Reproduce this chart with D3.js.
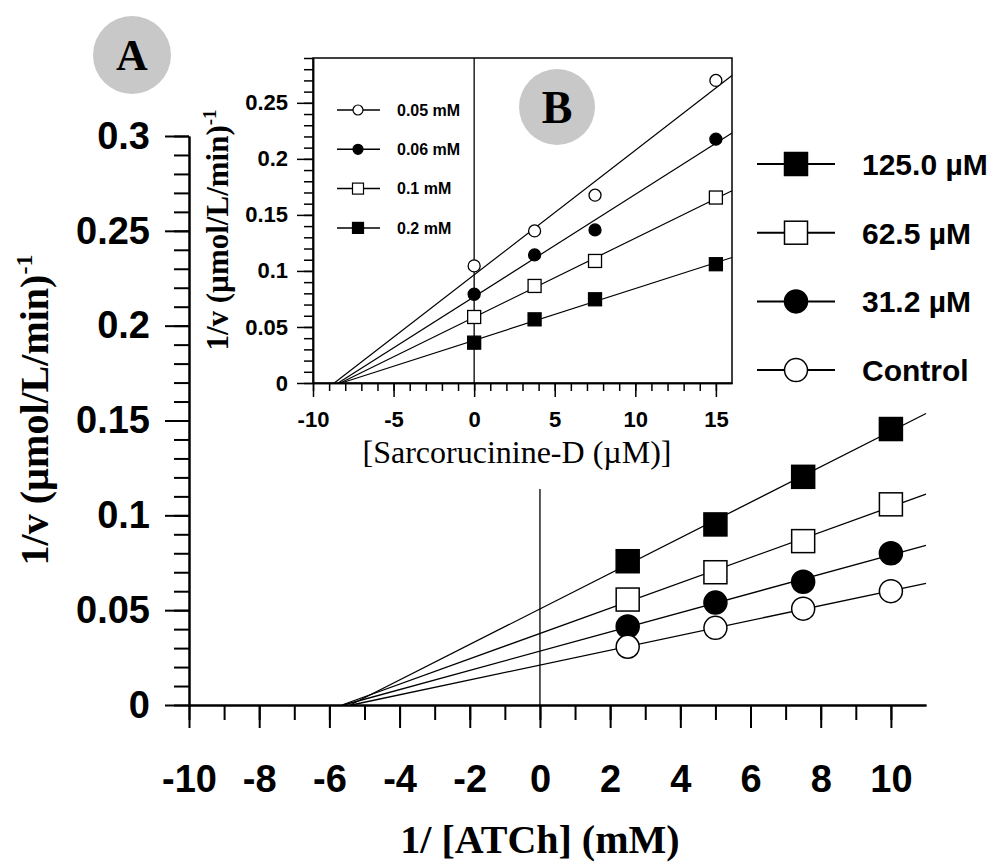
<!DOCTYPE html>
<html>
<head>
<meta charset="utf-8">
<script src="https://cdn.jsdelivr.net/npm/d3@7"></script>
<style>
  body { margin: 0; background: #fff; }
  svg { display: block; }
  .sans { font-family: "Liberation Sans", Arial, sans-serif; font-weight: bold; }
  .serif { font-family: "Liberation Serif", "Times New Roman", serif; }
</style>
</head>
<body>
<script>
// main plot data (Lineweaver-Burk, 1/[ATCh])
var mainX = [2.5, 5, 7.5, 10];
var mainNames = ['125.0 µM', '62.5 µM', '31.2 µM', 'Control'];
var main125 = [0.0758, 0.0952, 0.1203, 0.1455];
var main62 = [0.0556, 0.0700, 0.0864, 0.1058];
var main31 = [0.0414, 0.0540, 0.0650, 0.0800];
var mainCtl = [0.0307, 0.0407, 0.0508, 0.0600];
var mainXTicks = [-10, -8, -6, -4, -2, 0, 2, 4, 6, 8, 10];
var mainYTicks = [0, 0.05, 0.1, 0.15, 0.2, 0.25, 0.3];

// inset data (Dixon plot)
var insetX = [0, 3.75, 7.5, 15];
var insetNames = ['0.05 mM', '0.06 mM', '0.1 mM', '0.2 mM'];
var in005 = [0.1045, 0.1357, 0.1676, 0.2700];
var in006 = [0.0792, 0.1143, 0.1366, 0.2176];
var in01 = [0.0589, 0.0866, 0.1089, 0.1655];
var in02 = [0.0360, 0.0568, 0.0747, 0.1060];
var insetXTicks = [-10, -5, 0, 5, 10, 15];
var insetYTicks = [0, 0.05, 0.1, 0.15, 0.2, 0.25];

var w = 997, h = 864;
var svg = d3.select('body').append('svg')
  .attr('width', w)
  .attr('height', h);

function fit(xs, ys) {
  var mx = d3.mean(xs), my = d3.mean(ys);
  var sxy = d3.sum(xs, function (x, i) { return (x - mx) * (ys[i] - my); });
  var sxx = d3.sum(xs, function (x) { return (x - mx) * (x - mx); });
  var m = sxy / sxx;
  return { m: m, b: my - m * mx };
}

function marker(g, type, cx, cy, size, sw) {
  if (type === 'sq' || type === 'osq') {
    g.append('rect')
      .attr('x', cx - size / 2).attr('y', cy - size / 2)
      .attr('width', size).attr('height', size)
      .attr('fill', type === 'sq' ? '#000' : '#fff')
      .attr('stroke', '#000').attr('stroke-width', sw);
  } else {
    g.append('circle')
      .attr('cx', cx).attr('cy', cy).attr('r', size / 2)
      .attr('fill', type === 'ci' ? '#000' : '#fff')
      .attr('stroke', '#000').attr('stroke-width', sw);
  }
}

// ---------- main chart ----------
var x = d3.scaleLinear().domain([-10, 11]).range([189, 926]);
var y = d3.scaleLinear().domain([0, 0.3]).range([705, 136]);

var mainSeries = [
  { name: mainNames[0], vals: main125, type: 'sq' },
  { name: mainNames[1], vals: main62, type: 'osq' },
  { name: mainNames[2], vals: main31, type: 'ci' },
  { name: mainNames[3], vals: mainCtl, type: 'oci' }
];

// zero line
svg.append('line')
  .attr('x1', x(0)).attr('x2', x(0))
  .attr('y1', y(0.3)).attr('y2', y(0))
  .attr('stroke', '#000').attr('stroke-width', 1.3);

var fmt = function (d) { return String(d); };

var xMinor = svg.append('g').attr('transform', 'translate(0,' + y(0) + ')')
  .call(d3.axisBottom(x).tickValues(d3.range(-10, 11, 1)).tickSize(15).tickSizeOuter(0).tickFormat(''));
var xMajor = svg.append('g').attr('transform', 'translate(0,' + y(0) + ')')
  .call(d3.axisBottom(x).tickValues(mainXTicks).tickSize(23).tickSizeOuter(0).tickPadding(37).tickFormat(fmt));
var yMinor = svg.append('g').attr('transform', 'translate(' + x(-10) + ',0)')
  .call(d3.axisLeft(y).tickValues(d3.range(0, 0.301, 0.01)).tickSize(15).tickSizeOuter(0).tickFormat(''));
var yMajor = svg.append('g').attr('transform', 'translate(' + x(-10) + ',0)')
  .call(d3.axisLeft(y).tickValues(mainYTicks).tickSize(24).tickSizeOuter(0).tickPadding(15).tickFormat(fmt));

[xMinor, xMajor, yMinor, yMajor].forEach(function (g) {
  g.selectAll('path, line').attr('stroke', '#000').attr('stroke-width', 2);
  g.selectAll('text').attr('class', 'sans').attr('font-size', 38).attr('fill', '#000');
});

mainSeries.forEach(function (s) {
  var f = fit(mainX, s.vals);
  var x0 = -f.b / f.m, x1 = 11;
  svg.append('line')
    .attr('x1', x(x0)).attr('y1', y(0))
    .attr('x2', x(x1)).attr('y2', y(f.m * x1 + f.b))
    .attr('stroke', '#000').attr('stroke-width', 1.3);
});
mainSeries.forEach(function (s) {
  var g = svg.append('g');
  s.vals.forEach(function (v, i) {
    marker(g, s.type, x(mainX[i]), y(v), 23, 1.5);
  });
});

// main legend
var leg = svg.append('g');
mainSeries.forEach(function (s, i) {
  var ly = 164 + i * 68.7;
  leg.append('line')
    .attr('x1', 757).attr('x2', 835).attr('y1', ly).attr('y2', ly)
    .attr('stroke', '#000').attr('stroke-width', 2);
  marker(leg, s.type, 796, ly, 23, 1.5);
  leg.append('text')
    .attr('class', 'sans')
    .attr('x', 862).attr('y', ly).attr('dy', '0.36em')
    .attr('font-size', 30)
    .text(s.name);
});

// axis titles
svg.append('text')
  .attr('class', 'serif')
  .attr('font-weight', 'bold')
  .attr('font-size', 40)
  .attr('text-anchor', 'middle')
  .attr('x', x(0)).attr('y', 853)
  .text('1/ [ATCh] (mM)');

var yt = svg.append('text')
  .attr('class', 'serif')
  .attr('font-weight', 'bold')
  .attr('font-size', 40)
  .attr('text-anchor', 'middle')
  .attr('transform', 'translate(48,410) rotate(-90)');
yt.append('tspan').text('1/v (µmol/L/min)');
yt.append('tspan').attr('font-size', 24).attr('dy', -16).text('-1');

// badge A
svg.append('circle').attr('cx', 132).attr('cy', 55).attr('r', 39).attr('fill', '#c8c8c8');
svg.append('text').attr('class', 'serif').attr('font-weight', 'bold')
  .attr('font-size', 44).attr('text-anchor', 'middle')
  .attr('x', 132).attr('y', 70).text('A');

// ---------- inset ----------
var inset = svg.append('g');
inset.append('rect')
  .attr('x', 198).attr('y', 40).attr('width', 545).attr('height', 449)
  .attr('fill', '#fff');

var xi = d3.scaleLinear().domain([-10, 16]).range([313, 732]);
var yi = d3.scaleLinear().domain([0, 0.29]).range([383, 58]);

inset.append('rect')
  .attr('x', xi(-10)).attr('y', yi(0.29))
  .attr('width', xi(16) - xi(-10)).attr('height', yi(0) - yi(0.29))
  .attr('fill', 'none').attr('stroke', '#000').attr('stroke-width', 1.5);

inset.append('line')
  .attr('x1', xi(0)).attr('x2', xi(0))
  .attr('y1', yi(0.29)).attr('y2', yi(0))
  .attr('stroke', '#000').attr('stroke-width', 1.3);

var ixMinor = inset.append('g').attr('transform', 'translate(0,' + yi(0) + ')')
  .call(d3.axisBottom(xi).tickValues(d3.range(-10, 16, 1)).tickSize(8).tickSizeOuter(0).tickFormat(''));
var ixMajor = inset.append('g').attr('transform', 'translate(0,' + yi(0) + ')')
  .call(d3.axisBottom(xi).tickValues(insetXTicks).tickSize(14).tickSizeOuter(0).tickPadding(14).tickFormat(fmt));
var iyMinor = inset.append('g').attr('transform', 'translate(' + xi(-10) + ',0)')
  .call(d3.axisLeft(yi).tickValues(d3.range(0, 0.291, 0.01)).tickSize(9).tickSizeOuter(0).tickFormat(''));
var iyMajor = inset.append('g').attr('transform', 'translate(' + xi(-10) + ',0)')
  .call(d3.axisLeft(yi).tickValues(insetYTicks).tickSize(16).tickSizeOuter(0).tickPadding(9).tickFormat(fmt));

[ixMinor, ixMajor, iyMinor, iyMajor].forEach(function (g) {
  g.selectAll('path, line').attr('stroke', '#000').attr('stroke-width', 1.5);
  g.selectAll('text').attr('class', 'sans').attr('font-size', 22).attr('fill', '#000');
});

var insetSeries = [
  { name: insetNames[0], vals: in005, type: 'oci' },
  { name: insetNames[1], vals: in006, type: 'ci' },
  { name: insetNames[2], vals: in01, type: 'osq' },
  { name: insetNames[3], vals: in02, type: 'sq' }
];

insetSeries.forEach(function (s) {
  var f = fit(insetX, s.vals);
  var x0 = -f.b / f.m, x1 = 16;
  inset.append('line')
    .attr('x1', xi(x0)).attr('y1', yi(0))
    .attr('x2', xi(x1)).attr('y2', yi(f.m * x1 + f.b))
    .attr('stroke', '#000').attr('stroke-width', 1.2);
});
insetSeries.forEach(function (s) {
  var g = inset.append('g');
  s.vals.forEach(function (v, i) {
    marker(g, s.type, xi(insetX[i]), yi(v), s.type.indexOf('ci') >= 0 ? 12 : 13, 1.3);
  });
});

// inset legend
insetSeries.forEach(function (s, i) {
  var ly = 110 + i * 39.3;
  inset.append('line')
    .attr('x1', 337).attr('x2', 380).attr('y1', ly).attr('y2', ly)
    .attr('stroke', '#000').attr('stroke-width', 1.5);
  marker(inset, s.type, 358, ly, s.type.indexOf('ci') >= 0 ? 10 : 11, 1.2);
  inset.append('text')
    .attr('class', 'sans')
    .attr('x', 397).attr('y', ly).attr('dy', '0.36em')
    .attr('font-size', 16)
    .text(s.name);
});

inset.append('text')
  .attr('class', 'serif')
  .attr('font-size', 32)
  .attr('text-anchor', 'middle')
  .attr('x', 517).attr('y', 463)
  .text('[Sarcorucinine-D (µM)]');

var iyt = inset.append('text')
  .attr('class', 'serif')
  .attr('font-weight', 'bold')
  .attr('font-size', 31)
  .attr('text-anchor', 'middle')
  .attr('transform', 'translate(228,230) rotate(-90)');
iyt.append('tspan').text('1/v (µmol/L/min)');
iyt.append('tspan').attr('font-size', 19).attr('dy', -12).text('-1');

// badge B
inset.append('circle').attr('cx', 557).attr('cy', 107).attr('r', 38).attr('fill', '#c8c8c8');
inset.append('text').attr('class', 'serif').attr('font-weight', 'bold')
  .attr('font-size', 46).attr('text-anchor', 'middle')
  .attr('x', 557).attr('y', 123).text('B');
</script>
</body>
</html>
